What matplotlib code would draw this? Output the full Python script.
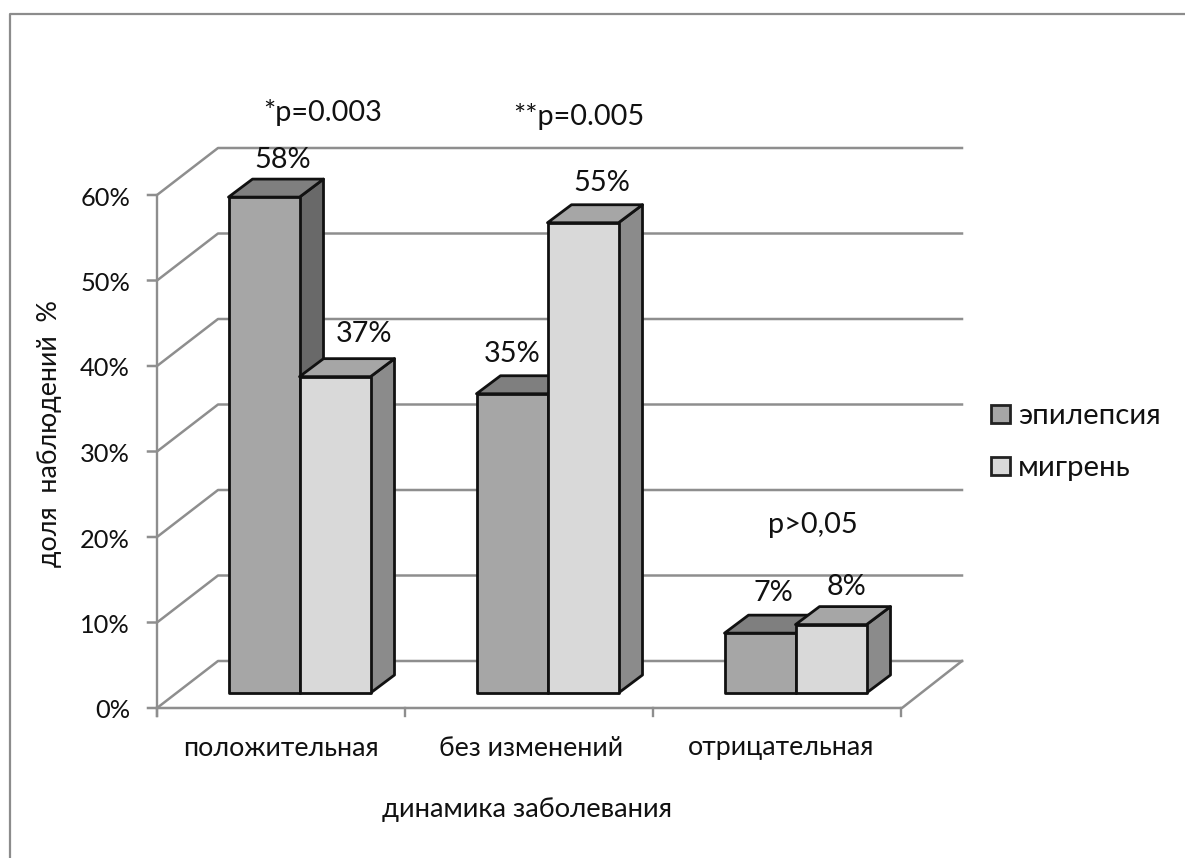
import matplotlib
matplotlib.use('Agg')
import matplotlib.pyplot as plt
from matplotlib.patches import Polygon, Rectangle

categories = ['положительная', 'без изменений', 'отрицательная']
series_names = ['эпилепсия', 'мигрень']
epilepsy = [58, 35, 7]
migraine = [37, 55, 8]
y_ticks = [0, 10, 20, 30, 40, 50, 60]

plt.rcParams['font.family'] = ['Lato', 'Open Sans', 'DejaVu Sans']

GRID = '#8e8e8e'
FRONT = ['#a6a6a6', '#d9d9d9']
TOP = ['#7f7f7f', '#a6a6a6']
SIDE = ['#696969', '#8b8b8b']

fig = plt.figure(figsize=(11.85, 8.58), dpi=100)
ax = fig.add_axes([0, 0, 1, 1])
ax.set_xlim(0, 1185)
ax.set_ylim(858, 0)
ax.axis('off')

# outer chart frame
ax.plot([9.5, 9.5, 1185], [858, 13.5, 13.5], color='#8c8c8c', lw=1.6)

px_per_pct = 8.55
x0, y0 = 157, 708
wall_dx, wall_dy = 61, -47
floor_w = 745
base_y = 693
bar_w = 71
depth_x, depth_y = 24, -18
group_w = 248
bar_left = 228.5


def val_y(v, base=y0):
    return base - v * px_per_pct


# walls and gridlines
ax.plot([x0, x0], [val_y(60), y0 + 8], color=GRID, lw=1.7, zorder=1)
for t in y_ticks:
    y = val_y(t)
    ax.plot([x0 - 9, x0, x0 + wall_dx, x0 + wall_dx + floor_w - 1],
            [y, y, y + wall_dy, y + wall_dy], color=GRID, lw=1.8, zorder=1)
    ax.text(130, y + 3, '%d%%' % t, ha='right', va='center', fontsize=18.3, color='#111111')

ax.plot([x0, x0 + floor_w, x0 + floor_w + wall_dx - 1],
        [y0, y0, y0 + wall_dy], color=GRID, lw=1.8, zorder=1)
for i in range(len(categories) + 1):
    xt = x0 + i * group_w
    ax.plot([xt, xt], [y0, y0 + 8], color=GRID, lw=1.7, zorder=1)


def draw_bar(x, v, s, z):
    top = val_y(v, base_y)
    kw = dict(edgecolor='#111111', lw=2, joinstyle='round', zorder=z)
    ax.add_patch(Polygon([(x + bar_w, base_y), (x + bar_w + depth_x, base_y + depth_y),
                          (x + bar_w + depth_x, top + depth_y), (x + bar_w, top)],
                         facecolor=SIDE[s], **kw))
    ax.add_patch(Polygon([(x, top), (x + depth_x, top + depth_y),
                          (x + bar_w + depth_x, top + depth_y), (x + bar_w, top)],
                         facecolor=TOP[s], **kw))
    ax.add_patch(Rectangle((x, top), bar_w, base_y - top, facecolor=FRONT[s], **kw))


z = 3
for i in range(len(categories)):
    x = bar_left + i * group_w
    draw_bar(x, epilepsy[i], 0, z)
    draw_bar(x + bar_w, migraine[i], 1, z + 1)
    z += 2

# value labels
label_kw = dict(ha='center', va='center', fontsize=20.8, color='#111111', zorder=20)
ax.text(283, 160, '%d%%' % epilepsy[0], **label_kw)
ax.text(364, 334, '%d%%' % migraine[0], **label_kw)
ax.text(512, 354, '%d%%' % epilepsy[1], **label_kw)
ax.text(602, 183, '%d%%' % migraine[1], **label_kw)
ax.text(773, 593, '%d%%' % epilepsy[2], **label_kw)
ax.text(846, 587, '%d%%' % migraine[2], **label_kw)

# significance notes
ax.text(323, 113, '*p=0.003', **label_kw)
ax.text(579, 117, '**p=0.005', **label_kw)
ax.text(813, 525, 'p>0,05', **label_kw)

# category labels and axis titles
for i, c in enumerate(categories):
    ax.text(x0 + group_w * (i + 0.5) + i * 2, 748, c, ha='center', va='center', fontsize=19.3, color='#111111')
ax.text(527, 809, 'динамика заболевания', ha='center', va='center', fontsize=19.7, color='#111111')
ax.text(50, 434, 'доля  наблюдений  %', ha='center', va='center', rotation=90, fontsize=19.3, color='#111111')

# legend
for s, (name, ly) in enumerate(zip(series_names, [405, 457])):
    ax.add_patch(Rectangle((991, ly), 19, 18, facecolor=FRONT[s], edgecolor='#222222', lw=2))
    ax.text(1018, ly + 11, name, ha='left', va='center', fontsize=21.2, color='#111111')

fig.savefig('out.png', dpi=100)
